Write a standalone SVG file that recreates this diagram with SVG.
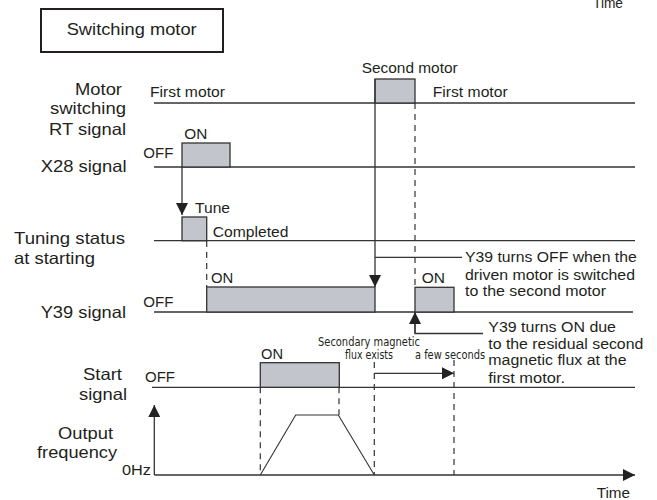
<svg xmlns="http://www.w3.org/2000/svg" width="657" height="500" viewBox="0 0 657 500">
<style>
text{font-family:"Liberation Sans",Arial,sans-serif;fill:#231f20}
.big{font-size:16.5px}
.sm{font-size:14px}
.cond{font-family:"Liberation Sans Narrow","DejaVu Sans Condensed","Liberation Sans",sans-serif;font-size:12px}
.ln{stroke:#333;stroke-width:1.3;fill:none}
.box{fill:#c2c5cb;stroke:#333;stroke-width:1.3}
.dash{stroke:#333;stroke-width:1.2;stroke-dasharray:6 5;fill:none}
.arr{stroke:#333;stroke-width:1.3;fill:none;marker-end:url(#ah)}
</style>
<defs>
<marker id="ah" viewBox="0 0 12 12" refX="12" refY="6" markerWidth="12" markerHeight="12" markerUnits="userSpaceOnUse" orient="auto">
<path d="M0,0 L12,6 L0,12 z" fill="#222"/>
</marker>
</defs>
<rect width="657" height="500" fill="#fff"/>

<g id="title">
<rect x="41" y="9" width="182" height="43" fill="none" stroke="#231f20" stroke-width="2"/>
<text class="big" x="131.7" y="35" text-anchor="middle" textLength="130" lengthAdjust="spacingAndGlyphs">Switching motor</text>
</g>
<text class="sm" x="593" y="8" textLength="30" lengthAdjust="spacingAndGlyphs">Time</text>

<g id="motor-switching">
<text class="big" x="75" y="94.5" textLength="47" lengthAdjust="spacingAndGlyphs">Motor</text>
<text class="big" x="50" y="113.5" textLength="76" lengthAdjust="spacingAndGlyphs">switching</text>
<text class="big" x="49" y="135" textLength="77" lengthAdjust="spacingAndGlyphs">RT signal</text>
<line class="ln" x1="154" y1="103" x2="635" y2="103"/>
<rect class="box" x="375" y="79" width="40" height="24"/>
<text class="sm" x="150" y="97" textLength="75" lengthAdjust="spacingAndGlyphs">First motor</text>
<text class="sm" x="361.7" y="73.3" textLength="96" lengthAdjust="spacingAndGlyphs">Second motor</text>
<text class="sm" x="432.7" y="97" textLength="75" lengthAdjust="spacingAndGlyphs">First motor</text>
</g>

<g id="x28">
<text class="big" x="40.7" y="172" textLength="86" lengthAdjust="spacingAndGlyphs">X28 signal</text>
<line class="ln" x1="154" y1="167" x2="635" y2="167"/>
<rect class="box" x="182" y="143" width="48" height="24"/>
<text class="sm" x="184.3" y="139" textLength="23" lengthAdjust="spacingAndGlyphs">ON</text>
<text class="sm" x="143.3" y="158" textLength="30" lengthAdjust="spacingAndGlyphs">OFF</text>
</g>

<g id="tuning">
<text class="big" x="14" y="244" textLength="111" lengthAdjust="spacingAndGlyphs">Tuning status</text>
<text class="big" x="14" y="264" textLength="81" lengthAdjust="spacingAndGlyphs">at starting</text>
<line class="ln" x1="154" y1="240.7" x2="635" y2="240.7"/>
<rect class="box" x="182" y="217" width="24.7" height="23.7"/>
<text class="sm" x="195" y="213" textLength="35" lengthAdjust="spacingAndGlyphs">Tune</text>
<text class="sm" x="212.7" y="236.7" textLength="75.7" lengthAdjust="spacingAndGlyphs">Completed</text>
</g>

<g id="y39">
<text class="big" x="40.7" y="318" textLength="85.3" lengthAdjust="spacingAndGlyphs">Y39 signal</text>
<line class="ln" x1="154" y1="312" x2="633" y2="312"/>
<rect class="box" x="206.7" y="287" width="168.3" height="25"/>
<rect class="box" x="415" y="287.3" width="39" height="24.7"/>
<text class="sm" x="211" y="283" textLength="22.3" lengthAdjust="spacingAndGlyphs">ON</text>
<text class="sm" x="421.7" y="283" textLength="23.3" lengthAdjust="spacingAndGlyphs">ON</text>
<text class="sm" x="143.3" y="307.3" textLength="30" lengthAdjust="spacingAndGlyphs">OFF</text>
</g>

<g id="callout-off">
<text class="sm" x="465" y="261.7" textLength="171.7" lengthAdjust="spacingAndGlyphs">Y39 turns OFF when the</text>
<text class="sm" x="465" y="280" textLength="170" lengthAdjust="spacingAndGlyphs">driven motor is switched</text>
<text class="sm" x="465" y="296" textLength="141" lengthAdjust="spacingAndGlyphs">to the second motor</text>
</g>

<g id="callout-on">
<text class="sm" x="488.3" y="331.7" textLength="127.7" lengthAdjust="spacingAndGlyphs">Y39 turns ON due</text>
<text class="sm" x="488.3" y="348.5" textLength="155" lengthAdjust="spacingAndGlyphs">to the residual second</text>
<text class="sm" x="488.3" y="365.3" textLength="138.3" lengthAdjust="spacingAndGlyphs">magnetic flux at the</text>
<text class="sm" x="488.3" y="382.5" textLength="76.7" lengthAdjust="spacingAndGlyphs">first motor.</text>
</g>

<g id="flux-note">
<text class="cond" x="369" y="345.5" text-anchor="middle" textLength="102" lengthAdjust="spacingAndGlyphs">Secondary magnetic</text>
<text class="cond" x="369" y="359.3" text-anchor="middle" textLength="48" lengthAdjust="spacingAndGlyphs">flux exists</text>
<text class="cond" x="415" y="359.3" textLength="70" lengthAdjust="spacingAndGlyphs">a few seconds</text>
</g>

<g id="start">
<text class="big" x="83" y="380" textLength="39" lengthAdjust="spacingAndGlyphs">Start</text>
<text class="big" x="79" y="399.5" textLength="48" lengthAdjust="spacingAndGlyphs">signal</text>
<line class="ln" x1="152" y1="387.3" x2="635" y2="387.3"/>
<rect class="box" x="260.3" y="362.7" width="79" height="24.6"/>
<text class="sm" x="261" y="359.3" textLength="22" lengthAdjust="spacingAndGlyphs">ON</text>
<text class="sm" x="145" y="381.7" textLength="30" lengthAdjust="spacingAndGlyphs">OFF</text>
</g>

<g id="output-frequency">
<text class="big" x="58" y="439.3" textLength="55" lengthAdjust="spacingAndGlyphs">Output</text>
<text class="big" x="37" y="458.3" textLength="80" lengthAdjust="spacingAndGlyphs">frequency</text>
<text class="sm" x="122" y="475" textLength="29" lengthAdjust="spacingAndGlyphs">0Hz</text>
<polyline points="260.3,475 295.7,415 338.3,415 374.3,475" fill="none" stroke="#333" stroke-width="1.1"/>
<text class="sm" x="596.7" y="498.3" textLength="33.3" lengthAdjust="spacingAndGlyphs">Time</text>
</g>

<g id="connectors">
<line class="arr" x1="182" y1="167" x2="182" y2="215"/>
<line class="arr" x1="375" y1="79" x2="375" y2="287"/>
<line class="ln" x1="375" y1="257.3" x2="462" y2="257.3"/>
<polyline class="ln" points="483,333.5 415,333.5 415,324"/>
<line class="arr" x1="415" y1="333.5" x2="415" y2="312"/>
<line class="arr" x1="374.3" y1="373.3" x2="454" y2="373.3"/>
<line class="arr" x1="154.3" y1="475" x2="154.3" y2="405"/>
<line class="arr" x1="154.3" y1="475" x2="635" y2="475"/>
<line class="dash" x1="206.7" y1="241" x2="206.7" y2="287"/>
<line class="dash" x1="415" y1="103" x2="415" y2="287"/>
<line class="dash" x1="260.3" y1="387.3" x2="260.3" y2="475"/>
<line class="dash" x1="339" y1="387.3" x2="339" y2="415"/>
<line class="dash" x1="374.3" y1="362" x2="374.3" y2="475"/>
<line class="dash" x1="454" y1="360" x2="454" y2="475"/>
</g>
</svg>
